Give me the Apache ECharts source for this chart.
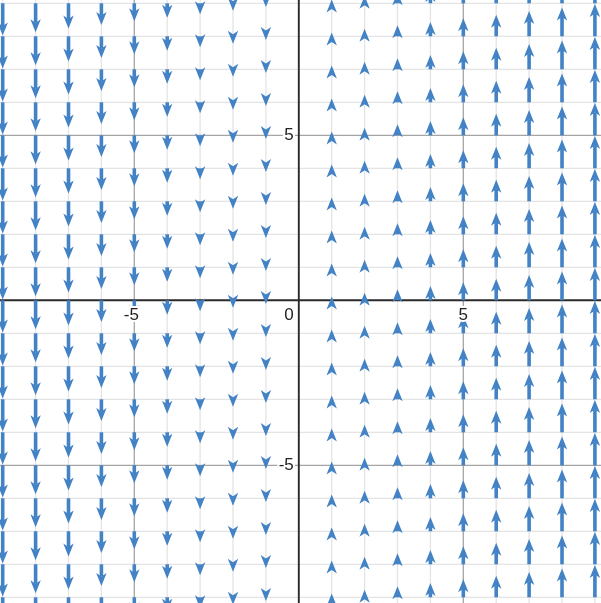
<!DOCTYPE html>
<html><head><meta charset="utf-8">
<script src="https://cdn.jsdelivr.net/npm/echarts@6/dist/echarts.min.js"></script>
<style>html,body{margin:0;padding:0;background:#fff}#c{width:601px;height:603px}</style>
</head><body><div id="c"></div>
<script>
// Vector field columns (x) and the vertical component of the arrows in each column
const xCols  = [-9, -8, -7, -6, -5, -4, -3, -2, -1, 1, 2, 3, 4, 5, 6, 7, 8, 9];
const vyCols = [-0.96, -0.86, -0.75, -0.64, -0.53, -0.42, -0.32, -0.21, -0.1, 0.1, 0.21, 0.32, 0.42, 0.53, 0.64, 0.75, 0.86, 0.96];
// Rows (y) where arrows start
const yRows  = [-9, -8, -7, -6, -5, -4, -3, -2, -1, 0, 1, 2, 3, 4, 5, 6, 7, 8, 9];
// Grid lines
const minorGrid = [-9, -8, -7, -6, -4, -3, -2, -1, 1, 2, 3, 4, 6, 7, 8, 9];
const majorGrid = [-5, 5];
const axisZero  = [0];
// Tick labels
const xTickValues = [-5, 5];
const xTickTexts  = ['-5', '5'];
const yTickValues = [-5, 5];
const yTickTexts  = ['-5', '5'];
const originText  = '0';

// Axis extents
const XMIN = -9.082, XMAX = 9.185, YMIN = -9.173, YMAX = 9.1;

const arrowData = [];
xCols.forEach((x, i) => { yRows.forEach(y => arrowData.push([x, y, vyCols[i]])); });

function gridRenderer(color, width) {
  return function (params, api) {
    const v = api.value(0);
    const cs = params.coordSys;
    const px = api.coord([v, 0])[0];
    const py = api.coord([0, v])[1];
    return { type: 'group', children: [
      { type: 'line', shape: { x1: px, y1: cs.y, x2: px, y2: cs.y + cs.height }, style: { stroke: color, lineWidth: width } },
      { type: 'line', shape: { x1: cs.x, y1: py, x2: cs.x + cs.width, y2: py }, style: { stroke: color, lineWidth: width } }
    ]};
  };
}

const ARROW = '#4282c5';
function arrowRenderer(params, api) {
  const x = api.value(0), y = api.value(1), vy = api.value(2);
  const p0 = api.coord([x, y]);
  const p1 = api.coord([x, y + vy]);
  const dir = p1[1] > p0[1] ? 1 : -1;
  const headLen = 13, halfW = 5.2, notch = 3.5;
  const tip = [p1[0], p1[1] + dir * 0.5];
  const back = tip[1] - dir * headLen;
  const shaftEnd = tip[1] - dir * (headLen - notch);
  const children = [];
  if ((shaftEnd - p0[1]) * dir > 0) {
    children.push({ type: 'line', shape: { x1: p0[0], y1: p0[1], x2: p0[0], y2: shaftEnd },
      style: { stroke: ARROW, lineWidth: 3.6 } });
  }
  children.push({ type: 'polygon', shape: { points: [
      [tip[0], tip[1]], [tip[0] - halfW, back], [tip[0], back + dir * notch], [tip[0] + halfW, back]
    ] }, style: { fill: ARROW } });
  return { type: 'group', children };
}

const labelStyle = { fill: '#222', stroke: '#fff', lineWidth: 4, font: '17px "Liberation Sans", Arial, sans-serif' };

const xLabelData = xTickValues.map((v, i) => [v, 0, i]);
const yLabelData = yTickValues.map((v, i) => [0, v, i]);

const chart = echarts.init(document.getElementById('c'), null, { renderer: 'canvas' });
chart.setOption({
  animation: false,
  backgroundColor: '#fff',
  grid: { left: 0, right: 0, top: 0, bottom: 0 },
  xAxis: { type: 'value', min: XMIN, max: XMAX, show: false },
  yAxis: { type: 'value', min: YMIN, max: YMAX, show: false },
  series: [
    { type: 'custom', z: 1, silent: true, renderItem: gridRenderer('#e4e4e4', 1.3), data: minorGrid.map(v => [v, v]) },
    { type: 'custom', z: 2, silent: true, renderItem: gridRenderer('#a5a5a5', 1.3), data: majorGrid.map(v => [v, v]) },
    { type: 'custom', z: 3, silent: true, renderItem: gridRenderer('#2a2a2a', 1.9), data: axisZero.map(v => [v, v]) },
    { type: 'custom', z: 4, silent: true, renderItem: arrowRenderer, data: arrowData },
    { type: 'custom', z: 5, silent: true, data: xLabelData, renderItem: function (params, api) {
        const v = api.value(0), i = api.value(2);
        const p = api.coord([v, 0]);
        const t = xTickTexts[i];
        return { type: 'text', x: p[0] + (v < 0 ? -3 : 0), y: p[1] + 15,
          style: Object.assign({ text: t, align: 'center', verticalAlign: 'middle' }, labelStyle) };
      } },
    { type: 'custom', z: 5, silent: true, data: yLabelData, renderItem: function (params, api) {
        const v = api.value(1), i = api.value(2);
        const p = api.coord([0, v]);
        return { type: 'text', x: p[0] - 5, y: p[1],
          style: Object.assign({ text: yTickTexts[i], align: 'right', verticalAlign: 'middle' }, labelStyle) };
      } },
    { type: 'custom', z: 5, silent: true, data: [[0, 0]], renderItem: function (params, api) {
        const p = api.coord([0, 0]);
        return { type: 'text', x: p[0] - 5, y: p[1] + 15,
          style: Object.assign({ text: originText, align: 'right', verticalAlign: 'middle' }, labelStyle) };
      } }
  ]
});
</script></body></html>
